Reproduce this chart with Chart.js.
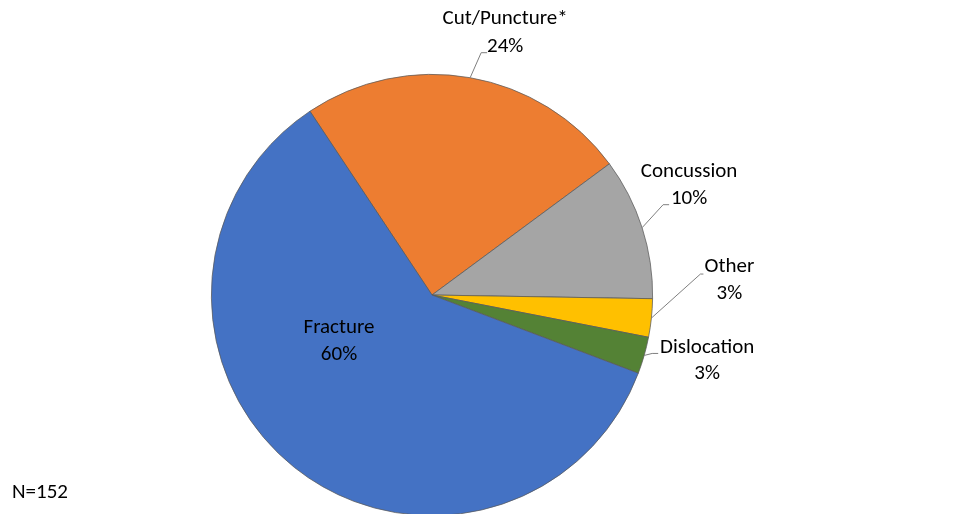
<!DOCTYPE html>
<html>
<head>
<meta charset="utf-8">
<script src="https://cdn.jsdelivr.net/npm/chart.js@4.4.1/dist/chart.umd.min.js"></script>
<style>
  html, body { margin: 0; padding: 0; background: #fff; overflow: hidden; }
</style>
</head>
<body>
<canvas id="injuryChart" width="956" height="520"></canvas>
<script>
// Injury types, share of injuries in percent (N=152)
const categories = ['Cut/Puncture*', 'Concussion', 'Other', 'Dislocation', 'Fracture'];
const shares = [24.2, 10.4, 2.8, 2.7, 59.9];
const sliceColors = ['#ED7D31', '#A5A5A5', '#FFC000', '#548235', '#4472C4'];
const sampleNote = 'N=152';

// label placement relative to the slice's outer mid point (outside) or pie centre (inside)
const labelLayout = [
    { dx: 35, dy1: -59, dy2: -31, elbow: [11, -25], end: [17, -25] },
    { dx: 47, dy1: -56, dy2: -29, elbow: [21, -23], end: [27, -23] },
    { dx: 78, dy1: -51, dy2: -24, elbow: [49, -44], end: [52, -44] },
    { dx: 63, dy1: -8, dy2: 18, elbow: [8, -2], end: [14, -2] },
    { inside: true, dx: -93, dy1: 33, dy2: 60 }
];

const labelFont = '21px Carlito, Lato, sans-serif';

const pieLabels = {
    id: 'pieLabels',
    afterDatasetsDraw(chart) {
        const ctx = chart.ctx;
        const meta = chart.getDatasetMeta(0);
        ctx.save();
        ctx.font = labelFont;
        ctx.fillStyle = '#000';
        ctx.textAlign = 'center';
        ctx.textBaseline = 'middle';
        meta.data.forEach((arc, i) => {
            const lay = labelLayout[i];
            const pct = Math.round(shares[i]) + '%';
            let ax, ay;
            if (lay.inside) {
                ax = arc.x;
                ay = arc.y;
            } else {
                const mid = (arc.startAngle + arc.endAngle) / 2;
                ax = arc.x + Math.cos(mid) * arc.outerRadius;
                ay = arc.y + Math.sin(mid) * arc.outerRadius;
                ctx.strokeStyle = '#7f7f7f';
                ctx.lineWidth = 1;
                ctx.beginPath();
                ctx.moveTo(ax, ay);
                ctx.lineTo(ax + lay.elbow[0], ay + lay.elbow[1]);
                ctx.lineTo(ax + lay.end[0], ay + lay.end[1]);
                ctx.stroke();
            }
            ctx.fillText(categories[i], ax + lay.dx, ay + lay.dy1);
            ctx.fillText(pct, ax + lay.dx, ay + lay.dy2);
        });
        ctx.textAlign = 'left';
        ctx.fillText(sampleNote, 12, 493);
        ctx.restore();
    }
};

const ctx = document.getElementById('injuryChart').getContext('2d');
new Chart(ctx, {
    type: 'pie',
    data: {
        labels: categories,
        datasets: [{
            data: shares,
            backgroundColor: sliceColors,
            borderColor: '#595959',
            borderWidth: 0.75
        }]
    },
    options: {
        responsive: false,
        animation: false,
        rotation: -33.6,
        layout: {
            padding: { left: 211, right: 303, top: 74, bottom: 4 }
        },
        plugins: {
            legend: { display: false },
            tooltip: { enabled: false }
        }
    },
    plugins: [pieLabels]
});
</script>
</body>
</html>
